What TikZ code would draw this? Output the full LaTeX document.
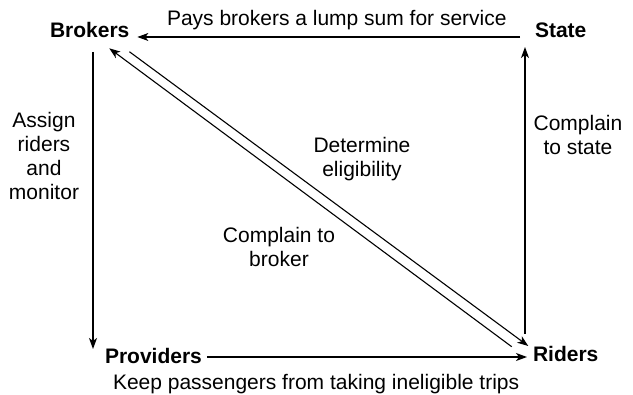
\documentclass[tikz,border=0pt]{standalone}
\usepackage{fontspec}
\setmainfont{Liberation Sans}
\usetikzlibrary{arrows.meta}
\begin{document}
\begin{tikzpicture}[x=1pt,y=-1pt,
  txt/.style={inner sep=0pt,outer sep=0pt,font=\fontsize{21}{24}\selectfont},
  actor/.style={txt,font=\fontsize{21}{24}\selectfont\bfseries},
  lbl/.style={txt,align=center,anchor=base},
  conn/.style={line width=1.1pt,-{Stealth[length=11pt,width=8pt,inset=3pt]}}]
\useasboundingbox (0,0) rectangle (633,395);
\node[actor,anchor=base west] (brokers) at (50,38) {Brokers};
\node[actor,anchor=base west] (state) at (535,38) {State};
\node[actor,anchor=base west] (providers) at (105,364) {Providers};
\node[actor,anchor=base west] (riders) at (533,362) {Riders};
\node[txt,anchor=base west] (pays) at (167,26) {Pays brokers a lump sum for service};
\node[txt,anchor=base west] (keep) at (113,390) {Keep passengers from taking ineligible trips};
\node[lbl] (assign) at (44,200) {Assign\\riders\\and\\monitor};
\node[lbl] (cstate) at (578,155) {Complain\\to state};
\node[lbl] (determine) at (362,177) {Determine\\eligibility};
\node[lbl] (cbroker) at (279,267) {Complain to\\broker};
\draw[conn] ([xshift=-15pt,yshift=1pt]state.base west) -- ([xshift=8pt,yshift=1pt]brokers.base east);
\draw[conn] ([xshift=43pt,yshift=-14pt]brokers.base west) -- ([xshift=-12pt,yshift=15pt]providers.base west);
\draw[conn] ([xshift=5pt,yshift=7pt]providers.base east) -- ([xshift=-6pt,yshift=5pt]riders.base west);
\draw[conn] ([xshift=-8pt,yshift=28pt]riders.base west) -- ([xshift=-10pt,yshift=-9pt]state.base west);
\draw[conn] ([yshift=-13.7pt]brokers.base east) -- ([xshift=-4.7pt,yshift=16pt]riders.base west);
\draw[conn] ([xshift=-21.3pt,yshift=15.3pt]riders.base west) -- ([xshift=-20.1pt,yshift=-10.3pt]brokers.base east);
\end{tikzpicture}
\end{document}
